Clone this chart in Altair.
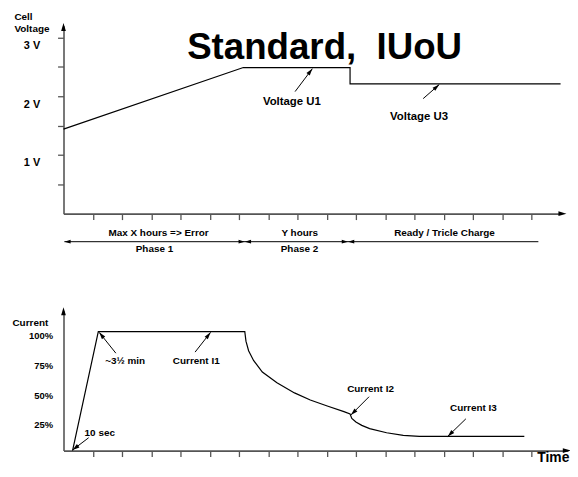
import math
import altair as alt
import pandas as pd

FONT = "Liberation Sans"
INK = "#000000"
AXIS_INK = "#555555"

# ---------------- data ----------------
# Upper panel: cell voltage (V) against time (one tick = one time unit)
volt_time = [0.0, 6.15, 9.8, 9.8, 17.0]
volt_value = [1.44, 2.49, 2.49, 2.21, 2.21]

# Lower panel: charging current (% of nominal)
cur_time = [0.31, 1.19, 6.2, 6.24, 6.33, 6.5, 6.8, 7.3, 7.9, 8.44, 9.02, 9.59, 9.8,
            9.86, 10.0, 10.2, 10.47, 11.05, 11.62, 12.17, 15.76]
cur_value = [0, 100, 100, 92.0, 84.0, 75.8, 66.0, 57.0, 48.5, 42.5, 37.5, 32.8, 30.8,
             27.0, 24.0, 21.2, 18.5, 15.0, 12.8, 11.9, 11.9]

volt_ticks = [0.5, 1, 1.5, 2, 2.5, 3]
cur_ticks = [25, 50, 75, 100]
time_ticks = list(range(1, 17))

title_text = ["Standard,\u00a0 IUoU"]
title_t = [8.93]
title_v = [2.63]

volt_note_text = ["Voltage U1", "Voltage U3"]
volt_note_t = [7.81, 12.16]
volt_note_v = [1.90, 1.64]
volt_arrow_t0 = [7.92, 12.30]
volt_arrow_v0 = [2.08, 1.96]
volt_arrow_t1 = [8.51, 12.85]
volt_arrow_v1 = [2.47, 2.20]

phase_upper_text = ["Max X hours => Error", "Y hours", "Ready / Tricle Charge"]
phase_upper_t = [3.25, 8.08, 13.03]
phase_lower_text = ["Phase 1", "Phase 2"]
phase_lower_t = [3.11, 8.07]
phase_start = [0.03]
phase_end = [16.24]
phase_bounds = [6.2, 9.73]

cur_note_text = ["~3\u00bd min", "Current I1", "10 sec", "Current I2", "Current I3"]
cur_note_t = [2.11, 4.54, 1.24, 10.50, 14.02]
cur_note_i = [75.4, 75.4, 15.0, 51.7, 35.8]
cur_arrow_t0 = [1.79, 4.50, 0.86, 10.45, 13.76]
cur_arrow_i0 = [81.9, 82.8, 10.8, 45.3, 26.7]
cur_arrow_t1 = [1.22, 5.03, 0.31, 9.83, 13.14]
cur_arrow_i1 = [99.4, 99.4, 0.5, 30.0, 11.9]

# ---------------- layout ----------------
T_TOP, T_BOT = 17.0, 17.25
V_TOP, I_TOP = 3.2, 117.5
PX_T, PX_V, PX_I = 29.5, 59.2, 1.2
TOP_W, TOP_H = T_TOP * PX_T, V_TOP * PX_V
BOT_W, BOT_H = T_BOT * PX_T, I_TOP * PX_I
PH_UP_V, PH_LINE_V, PH_LOW_V = -0.335, -0.478, -0.61
HEAD = "M0,0L0.5,1.7L-0.5,1.7Z"


def heading(t0, y0, t1, y1, py):
    dx = (t1 - t0) * PX_T
    dy = -(y1 - y0) * py
    return math.degrees(math.atan2(dx, -dy)) % 360


def xaxis(**kw):
    return alt.Axis(values=time_ticks, labels=False, tickSize=6, tickColor=AXIS_INK,
                    tickWidth=1.3, domainColor=AXIS_INK, domainWidth=1.6, grid=False, **kw)


top_x_axis = xaxis(title=None)
top_y_axis = alt.Axis(values=volt_ticks,
                      labelExpr="datum.value % 1 == 0 ? datum.value + ' V' : ''",
                      tickSize=6, tickColor=AXIS_INK, tickWidth=1.3, domainColor=AXIS_INK,
                      domainWidth=1.6, grid=False, labelPadding=18, labelOffset=8,
                      labelFontSize=11, labelFontWeight="bold", labelColor=INK,
                      labelOverlap=False,
                      title=["Cell", "Voltage"], titleAngle=0, titleAlign="left",
                      titleBaseline="alphabetic", titleX=-50, titleY=-6.3,
                      titleFontSize=10, titleLineHeight=11.5, titleFontWeight="bold",
                      titleColor=INK)
bot_x_axis = xaxis(title="Time", titleAngle=0, titleAlign="right", titleBaseline="alphabetic",
                   titleX=BOT_W + 1, titleY=11.5, titleFontSize=14, titleFontWeight="bold",
                   titleColor=INK)
bot_y_axis = alt.Axis(values=cur_ticks, labelExpr="datum.value + '%'", ticks=False,
                      domainColor=AXIS_INK, domainWidth=1.6, grid=False, labelPadding=11,
                      labelOffset=4, labelFontSize=9.5, labelFontWeight="bold",
                      labelColor=INK, labelOverlap=False,
                      title="Current", titleAngle=0, titleAlign="left",
                      titleBaseline="alphabetic", titleX=-52, titleY=14.5,
                      titleFontSize=10, titleFontWeight="bold", titleColor=INK)


def tX(f):
    return alt.X(f"{f}:Q", scale=alt.Scale(domain=[0, T_TOP], nice=False, zero=False), axis=top_x_axis)


def tY(f):
    return alt.Y(f"{f}:Q", scale=alt.Scale(domain=[0, V_TOP], nice=False, zero=False), axis=top_y_axis)


def bX(f):
    return alt.X(f"{f}:Q", scale=alt.Scale(domain=[0, T_BOT], nice=False, zero=False), axis=bot_x_axis)


def bY(f):
    return alt.Y(f"{f}:Q", scale=alt.Scale(domain=[0, I_TOP], nice=False, zero=False), axis=bot_y_axis)


def heads(df, X, Y, size=70):
    return alt.Chart(df).mark_point(shape=HEAD, filled=True, size=size, color=INK, opacity=1,
                                    strokeWidth=0).encode(
        x=X("t"), y=Y("y"), angle=alt.Angle("ang:Q", scale=None))


def text_layer(df, X, Y, size, baseline="middle"):
    return alt.Chart(df).mark_text(font=FONT, fontWeight="bold", fontSize=size, color=INK,
                                   align="center", baseline=baseline).encode(
        x=X("t"), y=Y("y"), text="label:N")


# ---------------- upper panel ----------------
volt_df = pd.DataFrame({"t": volt_time, "y": volt_value, "i": range(len(volt_time))})
volt_line = alt.Chart(volt_df).mark_line(color=INK, strokeWidth=1.2).encode(
    x=tX("t"), y=tY("y"), order="i:Q")

title_df = pd.DataFrame({"t": title_t, "y": title_v, "label": title_text})
title_layer = text_layer(title_df, tX, tY, 37, baseline="alphabetic")

vnote_df = pd.DataFrame({"t": volt_note_t, "y": volt_note_v, "label": volt_note_text})
vnotes = text_layer(vnote_df, tX, tY, 11.5)

varrow_df = pd.DataFrame({"t0": volt_arrow_t0, "y0": volt_arrow_v0,
                          "t": volt_arrow_t1, "y": volt_arrow_v1})
varrow_df["ang"] = [heading(a, b, c, d, PX_V) for a, b, c, d in
                    zip(varrow_df.t0, varrow_df.y0, varrow_df.t, varrow_df.y)]
varrow_rules = alt.Chart(varrow_df).mark_rule(color=INK, strokeWidth=1).encode(
    x=tX("t0"), y=tY("y0"), x2="t", y2="y")
varrow_heads = heads(varrow_df, tX, tY)

ph_line_df = pd.DataFrame({"t": phase_start, "t2": phase_end, "y": [PH_LINE_V]})
ph_line = alt.Chart(ph_line_df).mark_rule(color=INK, strokeWidth=1).encode(
    x=tX("t"), x2="t2", y=tY("y"))
ph_up_df = pd.DataFrame({"t": phase_upper_t, "y": [PH_UP_V] * 3, "label": phase_upper_text})
ph_low_df = pd.DataFrame({"t": phase_lower_t, "y": [PH_LOW_V] * 2, "label": phase_lower_text})
ph_up = text_layer(ph_up_df, tX, tY, 10)
ph_low = text_layer(ph_low_df, tX, tY, 10)
ph_head_t = phase_start + [b for b in phase_bounds for _ in (0, 1)]
ph_head_ang = [270] + [a for _ in phase_bounds for a in (90, 270)]
ph_head_df = pd.DataFrame({"t": ph_head_t, "y": [PH_LINE_V] * len(ph_head_t), "ang": ph_head_ang})
ph_heads = heads(ph_head_df, tX, tY, 55)

top_axis_heads = heads(pd.DataFrame({"t": [0.0, T_TOP + 0.2], "y": [V_TOP + 0.05, 0.0],
                                     "ang": [0.0, 90.0]}), tX, tY, 90)

top = alt.layer(volt_line, title_layer, vnotes, varrow_rules, varrow_heads,
                ph_line, ph_up, ph_low, ph_heads, top_axis_heads).properties(
    width=TOP_W, height=TOP_H)

# ---------------- lower panel ----------------
cur_df = pd.DataFrame({"t": cur_time, "y": cur_value, "i": range(len(cur_time))})
cur_line = alt.Chart(cur_df).mark_line(color=INK, strokeWidth=1.2).encode(
    x=bX("t"), y=bY("y"), order="i:Q")

cnote_df = pd.DataFrame({"t": cur_note_t, "y": cur_note_i, "label": cur_note_text})
cnotes = text_layer(cnote_df, bX, bY, 10)

carrow_df = pd.DataFrame({"t0": cur_arrow_t0, "y0": cur_arrow_i0,
                          "t": cur_arrow_t1, "y": cur_arrow_i1})
carrow_df["ang"] = [heading(a, b, c, d, PX_I) for a, b, c, d in
                    zip(carrow_df.t0, carrow_df.y0, carrow_df.t, carrow_df.y)]
carrow_rules = alt.Chart(carrow_df).mark_rule(color=INK, strokeWidth=1).encode(
    x=bX("t0"), y=bY("y0"), x2="t", y2="y")
carrow_heads = heads(carrow_df, bX, bY)

bot_axis_heads = heads(pd.DataFrame({"t": [0.0, T_BOT + 0.1], "y": [I_TOP + 3.0, 0.0],
                                     "ang": [0.0, 90.0]}), bX, bY, 90)

bottom = alt.layer(cur_line, cnotes, carrow_rules, carrow_heads, bot_axis_heads).properties(
    width=BOT_W, height=BOT_H)

chart = alt.vconcat(top, bottom, spacing=52.5).resolve_scale(x="independent", y="independent").properties(
    padding={"left": 4, "top": 1, "right": -1, "bottom": -2.5}
).configure_view(stroke=None).configure_axis(labelFont=FONT, titleFont=FONT)

chart.save("out.html", embed_options={"renderer": "svg", "actions": False})
